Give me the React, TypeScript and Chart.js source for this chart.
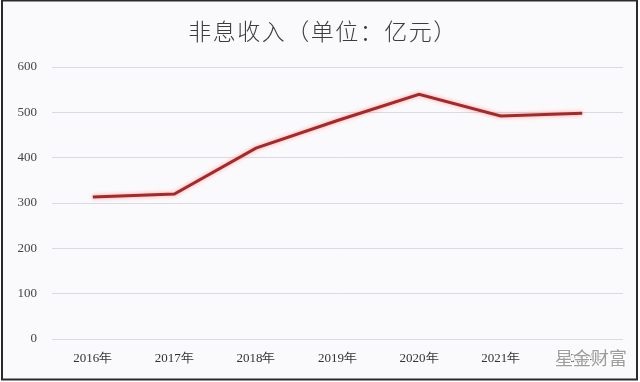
import React, { useEffect, useRef } from "react";
import { Chart, registerables } from "chart.js";

Chart.register(...registerables);

const categories = ["2016年", "2017年", "2018年", "2019年", "2020年", "2021年", "2022年"];
const nonInterestIncome = [313, 320, 421, 482, 540, 492, 498];
const yTicks = [0, 100, 200, 300, 400, 500, 600];
const titleText = "非息收入（单位：亿元）";
const watermarkText = "星金财富";

const framePlugin = {
  id: "frame",
  beforeDraw(chart: any) {
    const { ctx, width, height } = chart;
    ctx.save();
    ctx.fillStyle = "#ffffff";
    ctx.fillRect(0, 0, width, height);
    ctx.fillStyle = "#fafafc";
    ctx.fillRect(1, 0, 637, 380);
    ctx.restore();
  },
  beforeDatasetDraw(chart: any) {
    const ctx = chart.ctx;
    ctx.save();
    ctx.shadowColor = "rgba(240,90,90,0.55)";
    ctx.shadowBlur = 4;
  },
  afterDatasetDraw(chart: any) {
    chart.ctx.restore();
  },
  afterDraw(chart: any) {
    const { ctx } = chart;
    ctx.save();
    ctx.strokeStyle = "#2a2a2a";
    ctx.lineWidth = 2;
    ctx.strokeRect(2, 0.5, 635, 379);
    // title
    ctx.font = "300 23px 'Noto Sans CJK SC'";
    (ctx as any).letterSpacing = "1.5px";
    ctx.textAlign = "center";
    ctx.textBaseline = "middle";
    ctx.fillStyle = "#3c3c3c";
    ctx.fillText(titleText, 323, 31);
    (ctx as any).letterSpacing = "0px";
    // watermark
    ctx.font = "18px 'Noto Sans CJK SC'";
    ctx.lineWidth = 2;
    ctx.strokeStyle = "rgba(255,255,255,0.9)";
    ctx.strokeText(watermarkText, 591, 358);
    ctx.fillStyle = "rgba(140,140,140,0.85)";
    ctx.fillText(watermarkText, 591, 358);
    ctx.restore();
  },
};

export default function App() {
  const ref = useRef<HTMLCanvasElement>(null);
  useEffect(() => {
    document.body.style.margin = "0";
    const chart = new Chart(ref.current!, {
      type: "line",
      data: {
        labels: categories,
        datasets: [
          {
            data: nonInterestIncome,
            borderColor: "#a82828",
            borderWidth: 3,
            pointRadius: 0,
            tension: 0,
            fill: false,
          },
        ],
      },
      options: {
        animation: false,
        responsive: false,
        layout: { padding: { left: 0, right: 17, top: 67, bottom: 0 } },
        plugins: {
          legend: { display: false },
          tooltip: { enabled: false },
          title: { display: false },
        },
        scales: {
          x: {
            offset: true,
            grid: { display: false, drawTicks: false },
            border: { display: false },
            ticks: {
              color: "#333333",
              font: { family: "'Liberation Serif'", size: 13 },
              padding: 12,
              maxRotation: 0,
            },
            afterFit(scale: any) {
              scale.height = 43;
            },
          },
          y: {
            min: 0,
            max: 600,
            afterBuildTicks(scale: any) {
              scale.ticks = yTicks.map((v) => ({ value: v }));
            },
            grid: { color: "#d9dbe2", lineWidth: 1, drawTicks: false },
            border: { display: false },
            ticks: {
              color: "#444444",
              font: { family: "'Liberation Serif'", size: 13 },
              padding: 15,
            },
            afterFit(scale: any) {
              scale.width = 52;
            },
          },
        },
      },
      plugins: [framePlugin],
    });
    return () => chart.destroy();
  }, []);
  return (
    <div style={{ width: 640, height: 382 }}>
      <canvas ref={ref} width={640} height={382} />
    </div>
  );
}
